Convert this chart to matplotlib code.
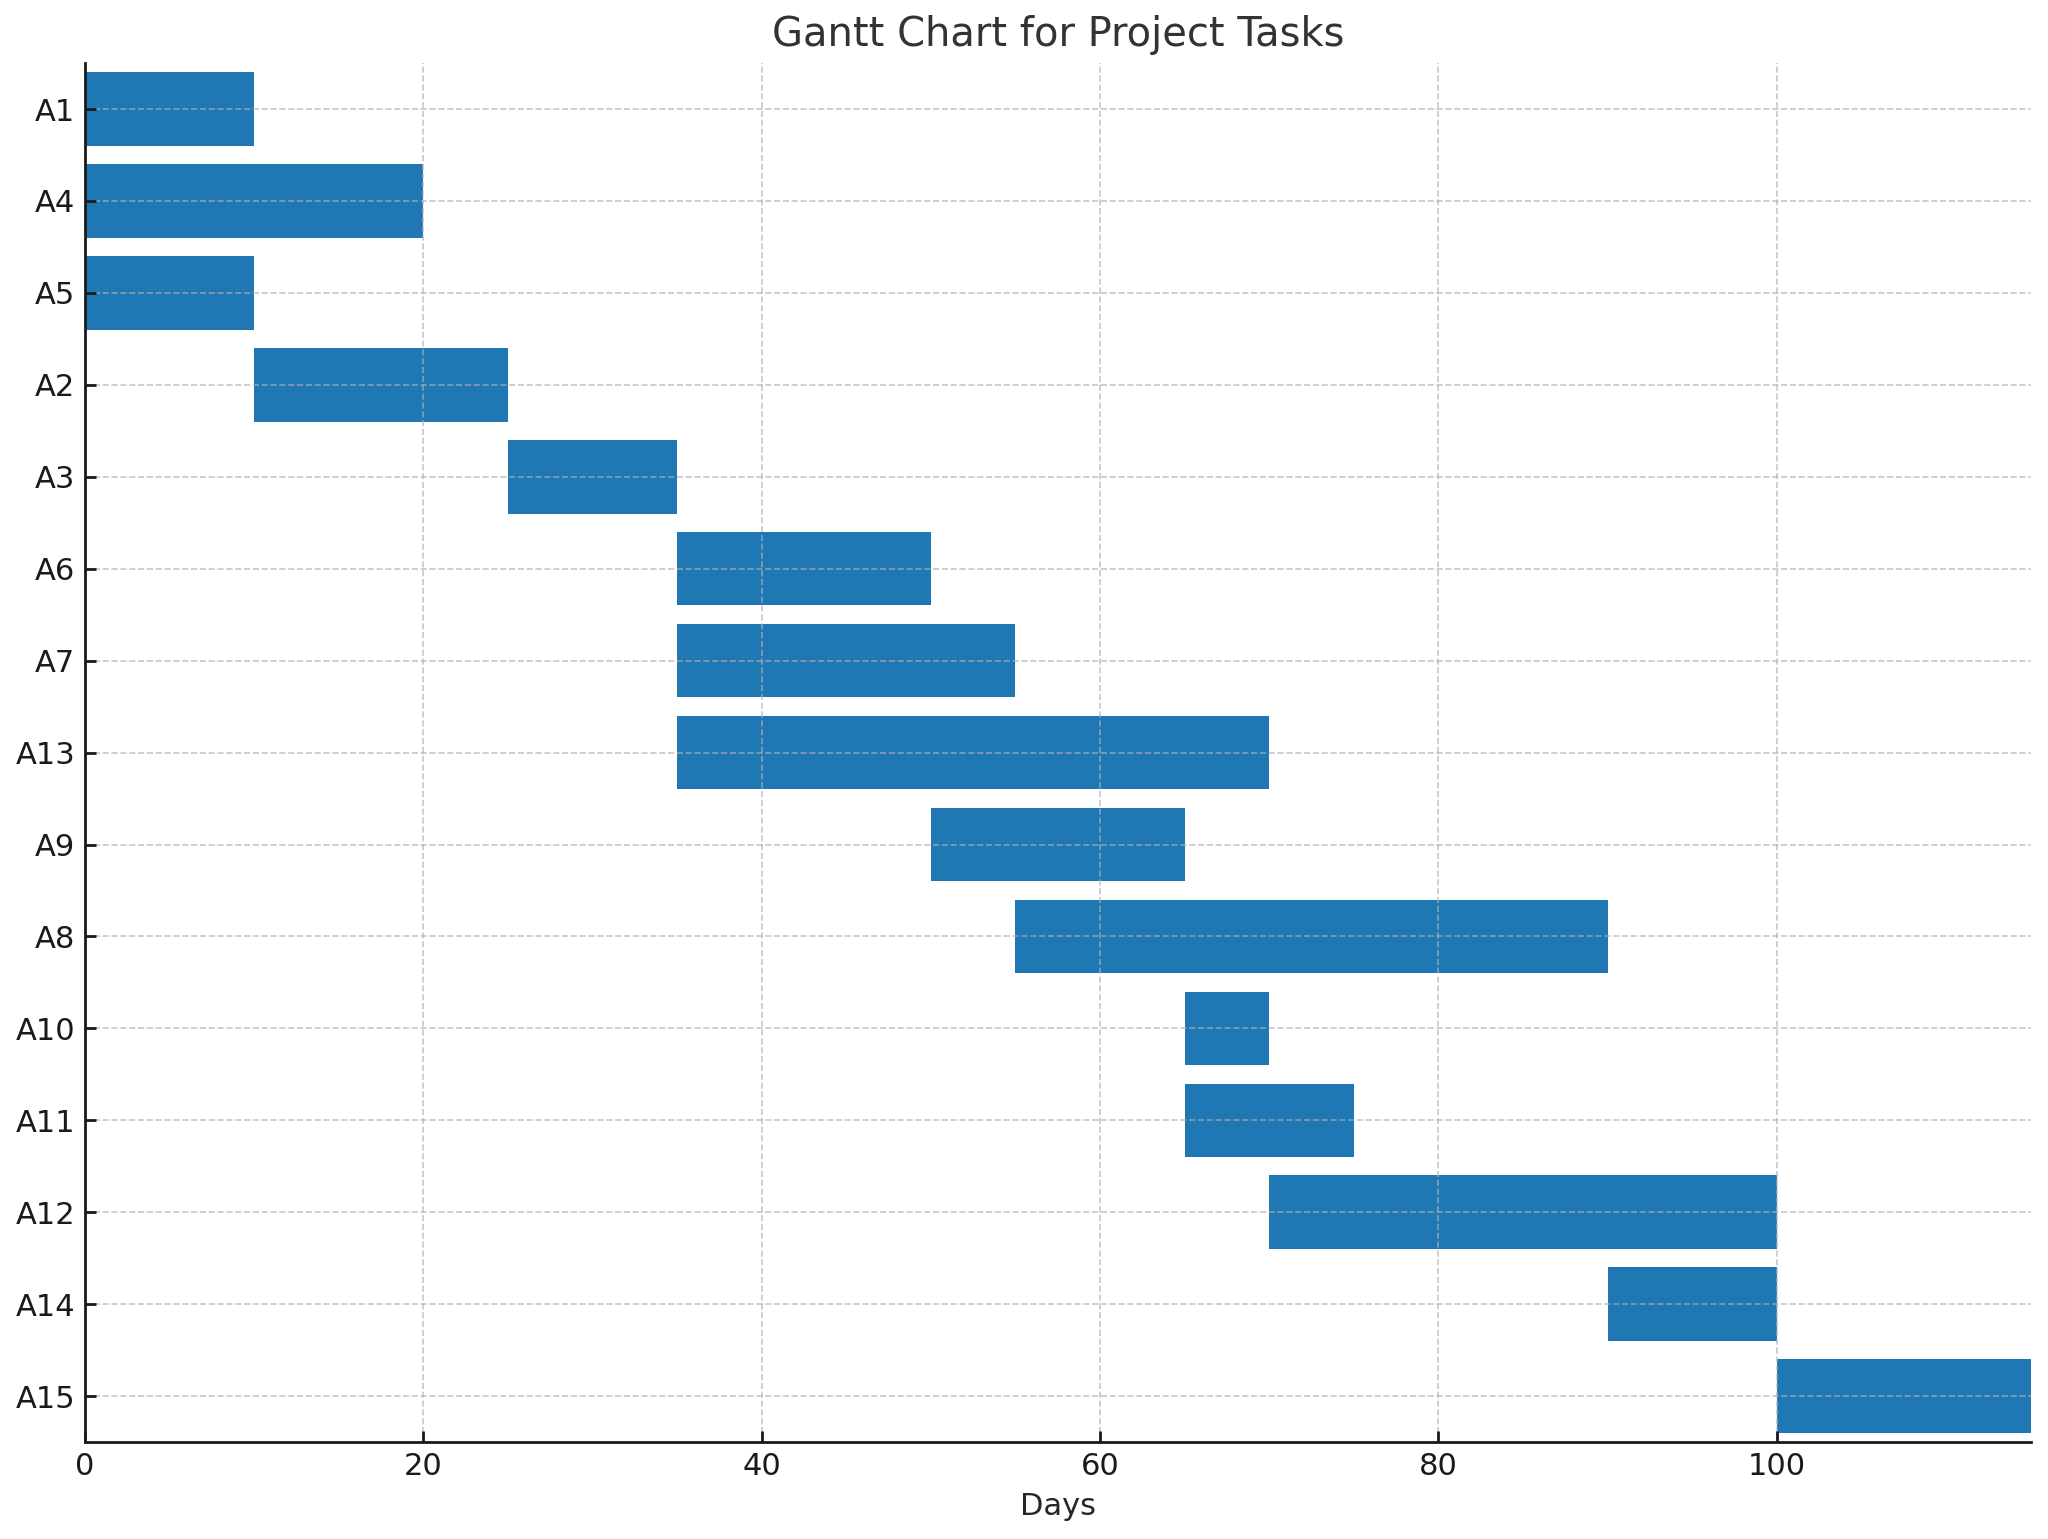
import matplotlib
matplotlib.use('Agg')
import matplotlib.pyplot as plt

# task order as shown top to bottom
tasks = ['A1', 'A4', 'A5', 'A2', 'A3', 'A6', 'A7', 'A13', 'A9', 'A8', 'A10', 'A11', 'A12', 'A14', 'A15']
starts = [0, 0, 0, 10, 25, 35, 35, 35, 50, 55, 65, 65, 70, 90, 100]
durations = [10, 20, 10, 15, 10, 15, 20, 35, 15, 35, 5, 10, 30, 10, 15]

fig = plt.figure(figsize=(10.24, 7.695), dpi=200)
ax = fig.add_axes([0.0415, 0.063, 0.950, 0.896])

ax.barh(tasks, durations, left=starts, height=0.8, color='#1f77b4', zorder=1)

ax.set_xlim(0, 115)
ax.set_ylim(len(tasks) - 0.5, -0.5)

ax.grid(True, linestyle='--', linewidth=0.6, color='#b0b0b0', alpha=0.7, zorder=2)
ax.set_axisbelow(False)

for side in ['top', 'right']:
    ax.spines[side].set_visible(False)
for side in ['left', 'bottom']:
    ax.spines[side].set_linewidth(1.0)
    ax.spines[side].set_color('#1a1a1a')
    ax.spines[side].set_zorder(4)

ax.tick_params(direction='in', length=4, width=1, labelsize=11, colors='#1a1a1a')
ax.set_xlabel('Days', fontsize=11, color='#262626')
ax.set_title('Gantt Chart for Project Tasks', fontsize=14.4, color='#333333')

fig.savefig('out.png', dpi=200)
